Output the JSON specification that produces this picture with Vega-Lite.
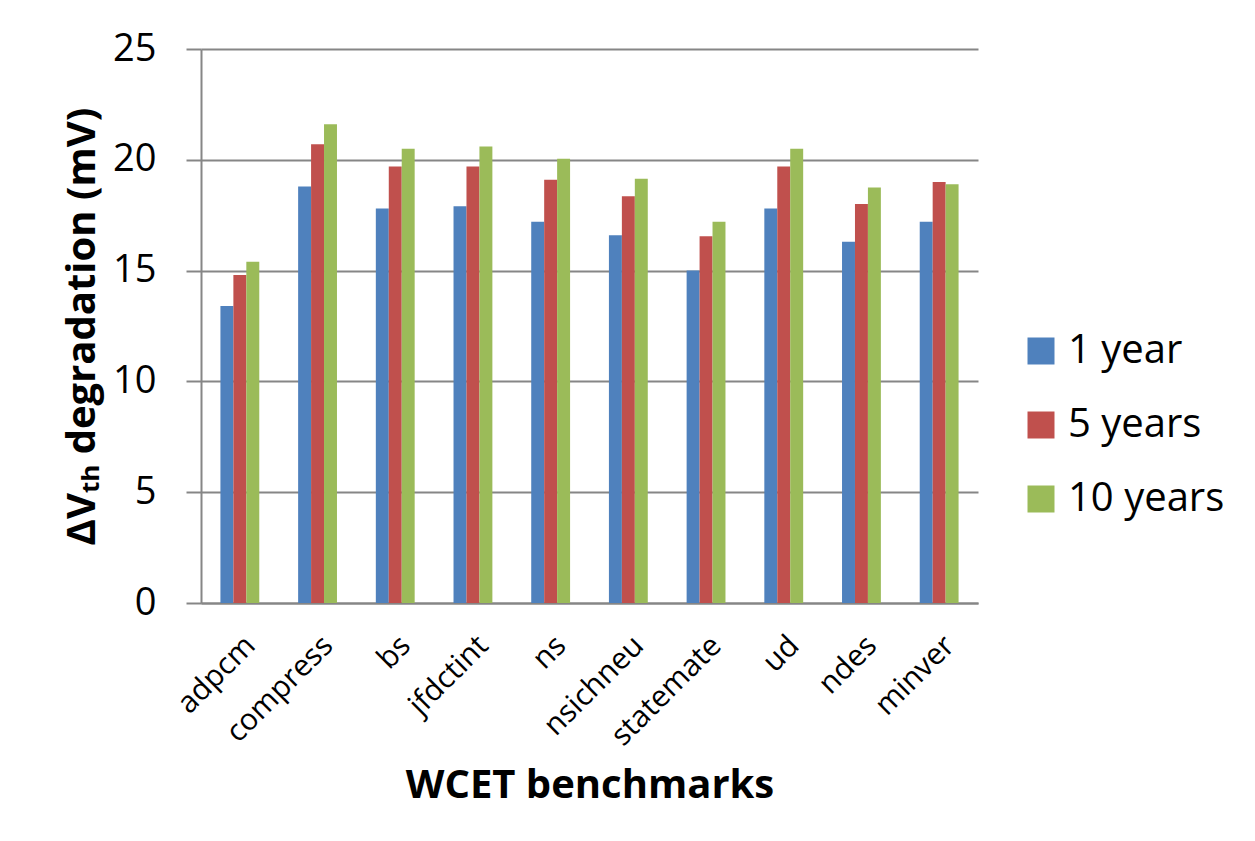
{
  "$schema": "https://vega.github.io/schema/vega-lite/v6.json",
  "width": 777,
  "height": 554,
  "autosize": {"type": "none"},
  "padding": {"left": 201, "top": 49, "right": 277, "bottom": 238},
  "background": "white",
  "data": {
    "values": [
      {"benchmark": "adpcm", "period": "1 year", "value": 13.4},
      {"benchmark": "adpcm", "period": "5 years", "value": 14.8},
      {"benchmark": "adpcm", "period": "10 years", "value": 15.4},
      {"benchmark": "compress", "period": "1 year", "value": 18.8},
      {"benchmark": "compress", "period": "5 years", "value": 20.7},
      {"benchmark": "compress", "period": "10 years", "value": 21.6},
      {"benchmark": "bs", "period": "1 year", "value": 17.8},
      {"benchmark": "bs", "period": "5 years", "value": 19.7},
      {"benchmark": "bs", "period": "10 years", "value": 20.5},
      {"benchmark": "jfdctint", "period": "1 year", "value": 17.9},
      {"benchmark": "jfdctint", "period": "5 years", "value": 19.7},
      {"benchmark": "jfdctint", "period": "10 years", "value": 20.6},
      {"benchmark": "ns", "period": "1 year", "value": 17.2},
      {"benchmark": "ns", "period": "5 years", "value": 19.1},
      {"benchmark": "ns", "period": "10 years", "value": 20.05},
      {"benchmark": "nsichneu", "period": "1 year", "value": 16.6},
      {"benchmark": "nsichneu", "period": "5 years", "value": 18.35},
      {"benchmark": "nsichneu", "period": "10 years", "value": 19.15},
      {"benchmark": "statemate", "period": "1 year", "value": 15.0},
      {"benchmark": "statemate", "period": "5 years", "value": 16.55},
      {"benchmark": "statemate", "period": "10 years", "value": 17.2},
      {"benchmark": "ud", "period": "1 year", "value": 17.8},
      {"benchmark": "ud", "period": "5 years", "value": 19.7},
      {"benchmark": "ud", "period": "10 years", "value": 20.5},
      {"benchmark": "ndes", "period": "1 year", "value": 16.3},
      {"benchmark": "ndes", "period": "5 years", "value": 18.0},
      {"benchmark": "ndes", "period": "10 years", "value": 18.75},
      {"benchmark": "minver", "period": "1 year", "value": 17.2},
      {"benchmark": "minver", "period": "5 years", "value": 19.0},
      {"benchmark": "minver", "period": "10 years", "value": 18.9}
    ]
  },
  "mark": {"type": "bar"},
  "encoding": {
    "x": {
      "field": "benchmark",
      "type": "nominal",
      "sort": ["adpcm", "compress", "bs", "jfdctint", "ns", "nsichneu", "statemate", "ud", "ndes", "minver"],
      "scale": {"paddingInner": 0.5, "paddingOuter": 0.25},
      "axis": {
        "labelAngle": -45,
        "labelFont": "Open Sans",
        "labelFontSize": 30,
        "labelColor": "black",
        "labelPadding": 27,
        "ticks": false,
        "domainColor": "#868686",
        "domainWidth": 2,
        "title": "WCET benchmarks",
        "titleFont": "Open Sans",
        "titleFontSize": 40,
        "titleFontWeight": "bold",
        "titleColor": "black",
        "titlePadding": 14
      }
    },
    "xOffset": {"field": "period", "sort": ["1 year", "5 years", "10 years"]},
    "y": {
      "field": "value",
      "type": "quantitative",
      "scale": {"domain": [0, 25]},
      "axis": {
        "values": [0, 5, 10, 15, 20, 25],
        "grid": true,
        "gridColor": "#868686",
        "gridWidth": 2,
        "domainColor": "#868686",
        "domainWidth": 2,
        "tickColor": "#868686",
        "tickSize": 15,
        "tickWidth": 2,
        "labelFont": "Open Sans",
        "labelFontSize": 38,
        "labelColor": "black",
        "labelPadding": 30,
        "title": "ΔVₜₕ degradation (mV)",
        "titleFont": "Open Sans",
        "titleFontSize": 40,
        "titleFontWeight": "bold",
        "titleColor": "black",
        "titlePadding": 10
      }
    },
    "color": {
      "field": "period",
      "type": "nominal",
      "sort": ["1 year", "5 years", "10 years"],
      "scale": {"domain": ["1 year", "5 years", "10 years"], "range": ["#4F81BD", "#C0504D", "#9BBB59"]},
      "legend": {
        "orient": "none",
        "legendX": 820,
        "legendY": 282,
        "title": null,
        "labelFont": "Open Sans",
        "labelFontSize": 40,
        "labelColor": "black",
        "symbolType": "square",
        "symbolSize": 729,
        "symbolStrokeWidth": 0,
        "rowPadding": 34,
        "labelOffset": 7
      }
    }
  },
  "config": {"view": {"stroke": null}}
}
